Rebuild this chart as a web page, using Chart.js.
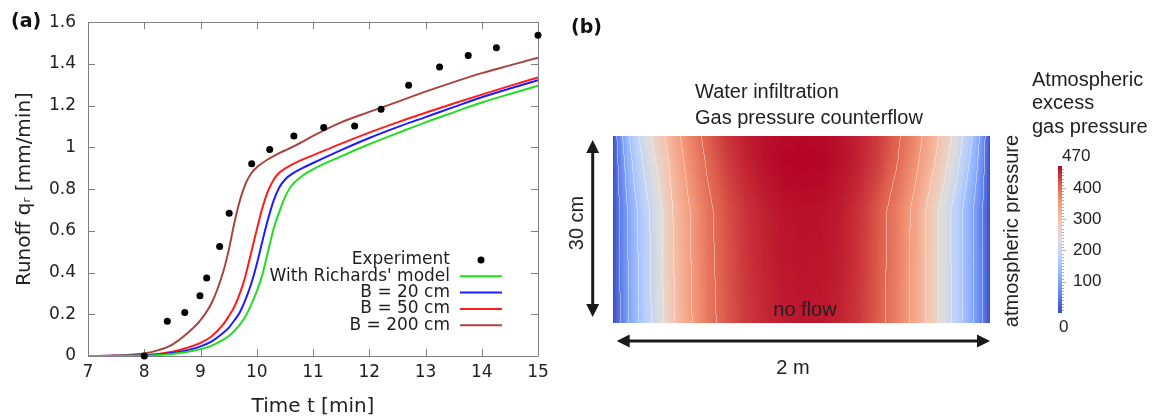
<!DOCTYPE html>
<html>
<head>
<meta charset="utf-8">
<script src="https://cdn.jsdelivr.net/npm/chart.js@4.4.1/dist/chart.umd.min.js"></script>
<style>
  html, body { margin: 0; padding: 0; background: #fff; }
  #wrap { position: relative; width: 1155px; height: 419px; overflow: hidden; }
  .box { position: absolute; top: 0; height: 419px; }
</style>
</head>
<body>
<div id="wrap">
  <div class="box" style="left:0;width:560px"><canvas id="runoffChart"></canvas></div>
  <div class="box" style="left:560px;width:460px"><canvas id="fieldChart"></canvas></div>
  <div class="box" style="left:1020px;width:135px"><canvas id="barChart"></canvas></div>
</div>
<script>
'use strict';

// ---- panel (a): runoff curves ----
var timeGrid = [7, 7.5, 8, 8.25, 8.5, 8.75, 9, 9.2, 9.4, 9.5, 9.6, 9.7, 9.8, 9.9, 10, 10.1, 10.2,
                10.3, 10.4, 10.5, 10.6, 10.8, 11, 11.5, 12, 12.5, 13, 13.5, 14, 14.5, 15];
var richards = [0, 0.0005, 0.002, 0.005, 0.01, 0.019, 0.033, 0.05, 0.077, 0.095, 0.12, 0.15, 0.19, 0.245, 0.31, 0.39, 0.50,
                0.61, 0.69, 0.76, 0.81, 0.862, 0.895, 0.957, 1.015, 1.068, 1.12, 1.168, 1.215, 1.256, 1.295];
var b20 = [0, 0.001, 0.003, 0.007, 0.014, 0.027, 0.046, 0.07, 0.11, 0.135, 0.17, 0.21, 0.27, 0.345, 0.44, 0.55, 0.655,
           0.745, 0.808, 0.845, 0.868, 0.899, 0.925, 0.987, 1.045, 1.097, 1.145, 1.193, 1.24, 1.282, 1.322];
var b50 = [0, 0.001, 0.005, 0.01, 0.02, 0.038, 0.063, 0.095, 0.15, 0.19, 0.235, 0.30, 0.385, 0.495, 0.605, 0.71, 0.79,
           0.845, 0.878, 0.898, 0.914, 0.94, 0.962, 1.018, 1.071, 1.12, 1.166, 1.21, 1.253, 1.295, 1.335];
var b200 = [0, 0.002, 0.012, 0.028, 0.055, 0.105, 0.172, 0.255, 0.40, 0.505, 0.635, 0.745, 0.825, 0.875, 0.905, 0.925, 0.943,
            0.958, 0.972, 0.985, 0.997, 1.025, 1.055, 1.12, 1.17, 1.218, 1.267, 1.313, 1.356, 1.393, 1.43];
var expTime = [8.0, 8.41, 8.72, 8.99, 9.11, 9.34, 9.51, 9.91, 10.23, 10.66, 11.19, 11.74, 12.21, 12.70, 13.25, 13.76, 14.26, 15.0];
var expRunoff = [0.0, 0.166, 0.209, 0.289, 0.374, 0.525, 0.684, 0.922, 0.99, 1.055, 1.095, 1.103, 1.183, 1.298, 1.385, 1.44, 1.478, 1.538];

// ---- panel (b): gas pressure field (x in m, depth in cm, pressure) ----
var fieldX = [0, 0.02, 0.05, 0.08, 0.12, 0.18, 0.24, 0.32, 0.40, 0.50, 0.60, 0.70, 0.80, 0.90, 1.00,
              1.10, 1.20, 1.30, 1.40, 1.50, 1.60, 1.70, 1.76, 1.82, 1.88, 1.92, 1.96, 2.00];
var fieldDepth = [0, 4, 12, 30];
var pressTop = [0, 45, 95, 140, 185, 235, 275, 330, 372, 412, 438, 453, 462, 466, 468,
                467, 462, 452, 436, 410, 372, 320, 278, 234, 180, 135, 80, 0];
var press4cm = [0, 38, 80, 124, 168, 218, 258, 318, 362, 404, 432, 450, 462, 469, 470,
                469, 463, 452, 434, 405, 364, 308, 264, 218, 162, 120, 70, 0];
var press12cm = [0, 30, 64, 100, 140, 188, 230, 300, 345, 390, 420, 440, 452, 460, 463,
                 462, 456, 442, 418, 385, 340, 272, 225, 180, 128, 92, 52, 0];
var pressBottom = [0, 28, 60, 95, 134, 182, 224, 294, 340, 385, 415, 435, 447, 455, 458,
                   457, 451, 438, 415, 382, 338, 272, 226, 182, 130, 94, 54, 0];
var colorTicks = [100, 200, 300, 400];
var pressMin = 0, pressMax = 470;

Chart.defaults.animation = false;
Chart.defaults.font.family = '"DejaVu Sans", sans-serif';
Chart.defaults.color = '#222';

function pairs(xs, ys) {
    return xs.map(function (x, i) { return { x: x, y: ys[i] }; });
}

// cool to warm colour map
var coolWarm = [
    [59, 76, 192], [98, 130, 234], [141, 176, 254], [184, 208, 249], [221, 221, 221],
    [245, 196, 173], [244, 154, 123], [222, 96, 77], [180, 4, 38]
];
function mapColor(v) {
    var t = Math.max(0, Math.min(1, (v - pressMin) / (pressMax - pressMin))) * (coolWarm.length - 1);
    var i = Math.min(coolWarm.length - 2, Math.floor(t));
    var f = t - i, a = coolWarm[i], b = coolWarm[i + 1];
    return [a[0] + (b[0] - a[0]) * f, a[1] + (b[1] - a[1]) * f, a[2] + (b[2] - a[2]) * f];
}

var fieldRows = [pressTop, press4cm, press12cm, pressBottom];
function findCell(arr, v) {
    var k = 0;
    while (k < arr.length - 2 && v > arr[k + 1]) k++;
    var f = (v - arr[k]) / (arr[k + 1] - arr[k]);
    return [k, Math.max(0, Math.min(1, f))];
}
function sampleField(x, d) {
    var cx = findCell(fieldX, x), cy = findCell(fieldDepth, d);
    var r0 = fieldRows[cy[0]], r1 = fieldRows[cy[0] + 1];
    var top = r0[cx[0]] + (r0[cx[0] + 1] - r0[cx[0]]) * cx[1];
    var bot = r1[cx[0]] + (r1[cx[0] + 1] - r1[cx[0]]) * cx[1];
    return top + (bot - top) * cy[1];
}

// ---------- panel (a) ----------
var runoffPlugin = {
    id: 'runoffPlugin',
    beforeDatasetsDraw: function (chart) {
        var ctx = chart.ctx, a = chart.chartArea, xs = chart.scales.x, ys = chart.scales.y;
        ctx.save();
        ctx.strokeStyle = '#808080';
        ctx.lineWidth = 1;
        ctx.beginPath();
        ctx.rect(Math.round(a.left) + 0.5, Math.round(a.top) + 0.5,
                 Math.round(a.right) - Math.round(a.left), Math.round(a.bottom) - Math.round(a.top));
        xs.ticks.forEach(function (t) {
            var px = Math.round(xs.getPixelForValue(t.value)) + 0.5;
            ctx.moveTo(px, a.bottom); ctx.lineTo(px, a.bottom - 7);
            ctx.moveTo(px, a.top); ctx.lineTo(px, a.top + 7);
        });
        ys.ticks.forEach(function (t) {
            var py = Math.round(ys.getPixelForValue(t.value)) + 0.5;
            ctx.moveTo(a.left, py); ctx.lineTo(a.left + 7, py);
            ctx.moveTo(a.right, py); ctx.lineTo(a.right - 7, py);
        });
        ctx.stroke();
        ctx.restore();
    },
    afterDraw: function (chart) {
        var ctx = chart.ctx, a = chart.chartArea;
        ctx.save();
        // legend, text right aligned, sample on the right
        var textRight = a.right - 88, sx0 = a.right - 78, sx1 = a.right - 36;
        var y0 = 260, step = 16.3;
        ctx.font = '17px "DejaVu Sans"';
        ctx.textAlign = 'right';
        ctx.textBaseline = 'middle';
        chart.data.datasets.forEach(function (ds, i) {
            var y = y0 + i * step;
            ctx.fillStyle = '#1e1e1e';
            ctx.fillText(ds.label, textRight, y);
            if (ds.showLine) {
                ctx.strokeStyle = ds.borderColor;
                ctx.lineWidth = 2;
                ctx.beginPath(); ctx.moveTo(sx0, y); ctx.lineTo(sx1, y); ctx.stroke();
            } else {
                ctx.fillStyle = ds.backgroundColor;
                ctx.beginPath(); ctx.arc((sx0 + sx1) / 2, y, ds.pointRadius, 0, Math.PI * 2); ctx.fill();
            }
        });
        ctx.font = 'bold 19px "DejaVu Sans"';
        ctx.textAlign = 'left';
        ctx.fillStyle = '#111';
        ctx.fillText('(a)', 11, 22);
        ctx.restore();
    }
};

new Chart(document.getElementById('runoffChart'), {
    type: 'scatter',
    data: {
        datasets: [
            {
                label: 'Experiment',
                data: pairs(expTime, expRunoff),
                showLine: false,
                pointRadius: 3.5,
                backgroundColor: '#000',
                borderColor: '#000',
                borderWidth: 0,
                clip: false
            },
            {
                label: "With Richards' model",
                data: pairs(timeGrid, richards),
                showLine: true, pointRadius: 0, borderWidth: 2,
                borderColor: '#22dd22', cubicInterpolationMode: 'monotone'
            },
            {
                label: 'B = 20 cm',
                data: pairs(timeGrid, b20),
                showLine: true, pointRadius: 0, borderWidth: 2,
                borderColor: '#1c1cff', cubicInterpolationMode: 'monotone'
            },
            {
                label: 'B = 50 cm',
                data: pairs(timeGrid, b50),
                showLine: true, pointRadius: 0, borderWidth: 2,
                borderColor: '#ff1c1c', cubicInterpolationMode: 'monotone'
            },
            {
                label: 'B = 200 cm',
                data: pairs(timeGrid, b200),
                showLine: true, pointRadius: 0, borderWidth: 2,
                borderColor: '#a8443e', cubicInterpolationMode: 'monotone'
            }
        ]
    },
    options: {
        responsive: true,
        maintainAspectRatio: false,
        layout: { padding: { left: 0, right: 22, top: 18, bottom: 0 } },
        plugins: { legend: { display: false }, tooltip: { enabled: false } },
        scales: {
            x: {
                type: 'linear', min: 7, max: 15,
                grid: { display: false, drawTicks: false },
                border: { display: false },
                ticks: { stepSize: 1, padding: 6, font: { size: 17 }, color: '#222' },
                title: { display: true, text: 'Time t [min]', font: { size: 20 }, padding: { top: 0, bottom: 0 }, color: '#222' },
                afterFit: function (s) { s.height = 63; }
            },
            y: {
                type: 'linear', min: 0, max: 1.6,
                grid: { display: false, drawTicks: false },
                border: { display: false },
                ticks: {
                    stepSize: 0.2, padding: 12, font: { size: 17 }, color: '#222',
                    callback: function (v) { return String(Math.round(v * 10) / 10); }
                },
                title: { display: true, text: 'Runoff q\u1d63 [mm/min]', font: { size: 20 }, padding: { top: 13, bottom: 0 }, color: '#222' },
                afterFit: function (s) { s.width = 88; }
            }
        }
    },
    plugins: [runoffPlugin]
});

// ---------- panel (b): field ----------
function arrowHead(ctx, x, y, dx, dy) {
    var len = 13, half = 6.5;
    var px = -dy, py = dx;
    ctx.beginPath();
    ctx.moveTo(x, y);
    ctx.lineTo(x - dx * len + px * half, y - dy * len + py * half);
    ctx.lineTo(x - dx * len - px * half, y - dy * len - py * half);
    ctx.closePath();
    ctx.fill();
}
function doubleArrow(ctx, x1, y1, x2, y2) {
    var L = Math.hypot(x2 - x1, y2 - y1), dx = (x2 - x1) / L, dy = (y2 - y1) / L;
    ctx.beginPath();
    ctx.moveTo(x1 + dx * 8, y1 + dy * 8);
    ctx.lineTo(x2 - dx * 8, y2 - dy * 8);
    ctx.stroke();
    arrowHead(ctx, x2, y2, dx, dy);
    arrowHead(ctx, x1, y1, -dx, -dy);
}

var fieldPlugin = {
    id: 'fieldPlugin',
    beforeDatasetsDraw: function (chart) {
        var ctx = chart.ctx, a = chart.chartArea, xs = chart.scales.x, ys = chart.scales.y;
        var W = Math.round(a.right - a.left), H = Math.round(a.bottom - a.top);
        var vals = new Float32Array((W + 1) * (H + 1));
        for (var j = 0; j <= H; j++) {
            var d = ys.getValueForPixel(a.top + j + 0.5);
            for (var i = 0; i <= W; i++) {
                vals[j * (W + 1) + i] = sampleField(xs.getValueForPixel(a.left + i + 0.5), d);
            }
        }
        var off = document.createElement('canvas');
        off.width = W; off.height = H;
        var octx = off.getContext('2d');
        var img = octx.createImageData(W, H);
        for (j = 0; j < H; j++) {
            for (i = 0; i < W; i++) {
                var v = vals[j * (W + 1) + i];
                var vr = vals[j * (W + 1) + i + 1];
                var c = mapColor(v);
                var lv = Math.floor(v / 50), lr = Math.floor(vr / 50);
                var lvl = Math.max(lv, lr) * 50;
                if (lv !== lr && lvl >= 50 && lvl <= 400) {
                    c = [c[0] * 0.62 + 255 * 0.38, c[1] * 0.62 + 255 * 0.38, c[2] * 0.62 + 255 * 0.38];
                }
                var p = (j * W + i) * 4;
                img.data[p] = c[0]; img.data[p + 1] = c[1]; img.data[p + 2] = c[2]; img.data[p + 3] = 255;
            }
        }
        octx.putImageData(img, 0, 0);
        ctx.drawImage(off, Math.round(a.left), Math.round(a.top));
    },
    afterDraw: function (chart) {
        var ctx = chart.ctx, a = chart.chartArea;
        ctx.save();
        ctx.strokeStyle = '#1a1a1a';
        ctx.fillStyle = '#1a1a1a';
        ctx.lineWidth = 3;
        doubleArrow(ctx, a.left - 20, a.top + 4, a.left - 20, a.bottom - 6);
        doubleArrow(ctx, a.left + 4, a.bottom + 18, a.right, a.bottom + 18);

        ctx.fillStyle = '#222';
        ctx.font = '20px "Liberation Sans"';
        ctx.textBaseline = 'middle';
        ctx.textAlign = 'left';
        ctx.fillText('Water infiltration', 135, 92);
        ctx.fillText('Gas pressure counterflow', 135, 118);
        ctx.textAlign = 'center';
        ctx.fillText('no flow', 245, 310);
        ctx.fillText('2 m', 233, 368);

        ctx.save();
        ctx.translate(17, 223);
        ctx.rotate(-Math.PI / 2);
        ctx.fillText('30 cm', 0, 0);
        ctx.restore();
        ctx.save();
        ctx.translate(452, 231);
        ctx.rotate(-Math.PI / 2);
        ctx.fillText('atmospheric pressure', 0, 0);
        ctx.restore();

        ctx.font = 'bold 19px "DejaVu Sans"';
        ctx.textAlign = 'left';
        ctx.fillStyle = '#111';
        ctx.fillText('(b)', 11, 28);
        ctx.restore();
    }
};

new Chart(document.getElementById('fieldChart'), {
    type: 'scatter',
    data: { datasets: [] },
    options: {
        responsive: true,
        maintainAspectRatio: false,
        layout: { padding: { left: 52.7, right: 30, top: 136, bottom: 96 } },
        plugins: { legend: { display: false }, tooltip: { enabled: false } },
        scales: {
            x: { type: 'linear', min: 0, max: 2, display: false },
            y: { type: 'linear', min: 0, max: 30, reverse: true, display: false }
        }
    },
    plugins: [fieldPlugin]
});

// ---------- colour bar ----------
var barPlugin = {
    id: 'barPlugin',
    beforeDatasetsDraw: function (chart) {
        var ctx = chart.ctx, a = chart.chartArea, ys = chart.scales.y;
        var yTop = Math.round(ys.getPixelForValue(pressMax)), yBot = Math.round(ys.getPixelForValue(pressMin));
        ctx.save();
        for (var y = yTop; y < yBot; y++) {
            var c = mapColor(ys.getValueForPixel(y + 0.5));
            ctx.fillStyle = 'rgb(' + Math.round(c[0]) + ',' + Math.round(c[1]) + ',' + Math.round(c[2]) + ')';
            ctx.fillRect(a.left, y, a.right - a.left, 1);
        }
        ctx.strokeStyle = 'rgba(120,120,120,0.6)';
        ctx.lineWidth = 1;
        ctx.beginPath();
        for (var v = 10; v < pressMax; v += 10) {
            var py = Math.round(ys.getPixelForValue(v)) + 0.5;
            ctx.moveTo(a.right, py); ctx.lineTo(a.right + (v % 100 === 0 ? 4 : 2), py);
        }
        ctx.stroke();

        ctx.fillStyle = '#222';
        ctx.font = '17px "Liberation Sans"';
        ctx.textBaseline = 'middle';
        ctx.textAlign = 'left';
        ctx.fillText(String(pressMax), a.right, yTop - 10);
        ctx.fillText(String(pressMin), a.left + 1, yBot + 14);

        ctx.font = '20px "Liberation Sans"';
        ctx.fillText('Atmospheric', 12, 80);
        ctx.fillText('excess', 12, 103.5);
        ctx.fillText('gas pressure', 12, 127);
        ctx.restore();
    }
};

new Chart(document.getElementById('barChart'), {
    type: 'scatter',
    data: { datasets: [] },
    options: {
        responsive: true,
        maintainAspectRatio: false,
        layout: { padding: { left: 38, right: 0, top: 166, bottom: 106 } },
        plugins: { legend: { display: false }, tooltip: { enabled: false } },
        scales: {
            x: { type: 'linear', min: 0, max: 1, display: false },
            y: {
                type: 'linear', position: 'right', min: pressMin, max: pressMax,
                grid: { display: false, drawTicks: false },
                border: { display: false },
                ticks: { padding: 11, font: { family: '"Liberation Sans"', size: 17 }, color: '#222' },
                afterBuildTicks: function (s) {
                    s.ticks = colorTicks.map(function (v) { return { value: v }; });
                },
                afterFit: function (s) { s.width = 93; }
            }
        }
    },
    plugins: [barPlugin]
});
</script>
</body>
</html>
